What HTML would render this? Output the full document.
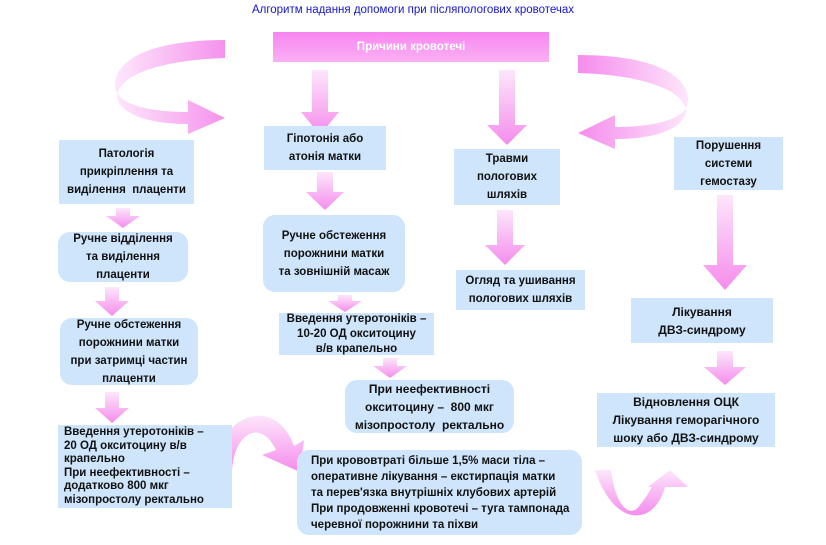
<!DOCTYPE html>
<html><head><meta charset="utf-8"><style>
body{margin:0;width:826px;height:545px;background:#fff;position:relative;overflow:hidden;font-family:"Liberation Sans",sans-serif}
.b{position:absolute;background:#cfe5fc;display:flex;align-items:center;justify-content:center;text-align:center;font-weight:bold;font-size:11.5px;line-height:18px;color:#111}
.r{border-radius:12px}
.t{position:absolute;left:0;width:826px;top:4px;text-align:center;color:#1515d0;font-size:11.5px}
svg{position:absolute;left:0;top:0}
</style></head><body>
<svg width="826" height="545">
<defs>
<linearGradient id="g" x1="0" y1="0" x2="0" y2="1"><stop offset="0" stop-color="#fde6fb"/><stop offset="1" stop-color="#f58cec"/></linearGradient>
<linearGradient id="gh" x1="0" y1="0" x2="1" y2="0"><stop offset="0" stop-color="#fde6fb"/><stop offset="1" stop-color="#f58cec"/></linearGradient>
<linearGradient id="pk" x1="0" y1="0" x2="0" y2="1"><stop offset="0" stop-color="#f786f0"/><stop offset="1" stop-color="#fab0f4"/></linearGradient>
</defs>
<g fill="url(#g)">
<path d="M312 70h16v42h11l-19 23l-19-23h11z"/>
<path d="M499 70h16v55h12l-20 20l-20-20h12z"/>
<path d="M317 172h16v20h11l-19 18l-19-18h11z"/>
<path d="M116 208h14v8h10l-17 12l-17-12h10z"/>
<path d="M105 287h14v14h10l-17 15l-17-15h10z"/>
<path d="M105 392h14v16h10l-17 15l-17-15h10z"/>
<path d="M497 210h16v35h12l-20 20l-20-20h12z"/>
<path d="M717 195h16v70h14l-22 25l-22-25h14z"/>
<path d="M717 351h16v16h13l-21 18l-21-18h13z"/>
<path d="M338 295h14v6h10l-17 11l-17-11h10z"/>
<path d="M383 358h14v8h10l-17 12l-17-12h10z"/>
</g>
<path fill="url(#gh)" d="M225 40 C150 40 115 60 115 85 C115 105 150 112 188 112 L188 100 L225 118 L188 134 L188 124 C140 124 117 110 117 95 C120 75 160 60 225 58z" opacity="0.95"/>
<path fill="url(#gh)" transform="translate(803 0) scale(-1 1)" d="M225 55 C150 55 115 75 115 100 C115 120 150 127 188 127 L188 115 L225 133 L188 149 L188 139 C140 139 117 125 117 110 C120 90 160 75 225 73z"/>
<path fill="url(#g)" d="M232 470 C235 430 262 420 276 450 L262 455 L300 472 L304 440 L294 446 C278 400 225 405 212 470z"/>
<path fill="url(#g)" d="M595 470 L611 470 C615 505 630 520 640 505 C648 495 650 490 652 487 L648 487 L670 470 L688 487 L665 487 C655 525 615 530 595 470z"/>
<rect x="273" y="32" width="276" height="30" fill="url(#pk)"/>
</svg>
<div class="t">Алгоритм надання допомоги при післяпологових кровотечах</div>
<div class="b" style="left:273px;top:32px;width:276px;height:30px;background:none;color:#fff">Причини кровотечі</div>
<div class="b" style="left:59px;top:140px;width:135px;height:64px">Патологія<br>прикріплення та<br>виділення&nbsp; плаценти</div>
<div class="b" style="left:264px;top:126px;width:122px;height:44px">Гіпотонія або<br>атонія матки</div>
<div class="b" style="left:454px;top:149px;width:106px;height:56px">Травми<br>пологових<br>шляхів</div>
<div class="b" style="left:674px;top:137px;width:109px;height:53px">Порушення<br>системи<br>гемостазу</div>
<div class="b r" style="left:58px;top:232px;width:130px;height:50px">Ручне відділення<br>та виділення<br>плаценти</div>
<div class="b r" style="left:263px;top:215px;width:142px;height:77px">Ручне обстеження<br>порожнини матки<br>та зовнішній масаж</div>
<div class="b" style="left:456px;top:270px;width:129px;height:40px">Огляд та ушивання<br>пологових шляхів</div>
<div class="b r" style="left:60px;top:318px;width:138px;height:67px">Ручне обстеження<br>порожнини матки<br>при затримці частин<br>плаценти</div>
<div class="b" style="left:279px;top:313px;width:155px;height:42px;line-height:15px">Введення утеротоніків –<br>10-20 ОД окситоцину<br>в/в крапельно</div>
<div class="b" style="left:631px;top:298px;width:142px;height:45px;font-size:12px">Лікування<br>ДВЗ-синдрому</div>
<div class="b r" style="left:345px;top:380px;width:169px;height:53px;font-size:12px">При неефективності<br>окситоцину –&nbsp; 800 мкг<br>мізопростолу&nbsp; ректально</div>
<div class="b" style="left:597px;top:393px;width:178px;height:54px;font-size:12px">Відновлення ОЦК<br>Лікування геморагічного<br>шоку або ДВЗ-синдрому</div>
<div class="b" style="left:58px;top:425px;width:174px;height:83px;justify-content:flex-start;text-align:left;padding-left:6px;box-sizing:border-box;line-height:13.5px">Введення утеротоніків –<br>20 ОД окситоцину в/в<br>крапельно<br>При неефективності –<br>додатково 800 мкг<br>мізопростолу ректально</div>
<div class="b r" style="left:297px;top:450px;width:285px;height:85px;justify-content:flex-start;text-align:left;padding-left:14px;box-sizing:border-box;line-height:16px">При крововтраті більше 1,5% маси тіла –<br>оперативне лікування – екстирпація матки<br>та перев'язка внутрішніх клубових артерій<br>При продовженні кровотечі – туга тампонада<br>черевної порожнини та піхви</div>
</body></html>
